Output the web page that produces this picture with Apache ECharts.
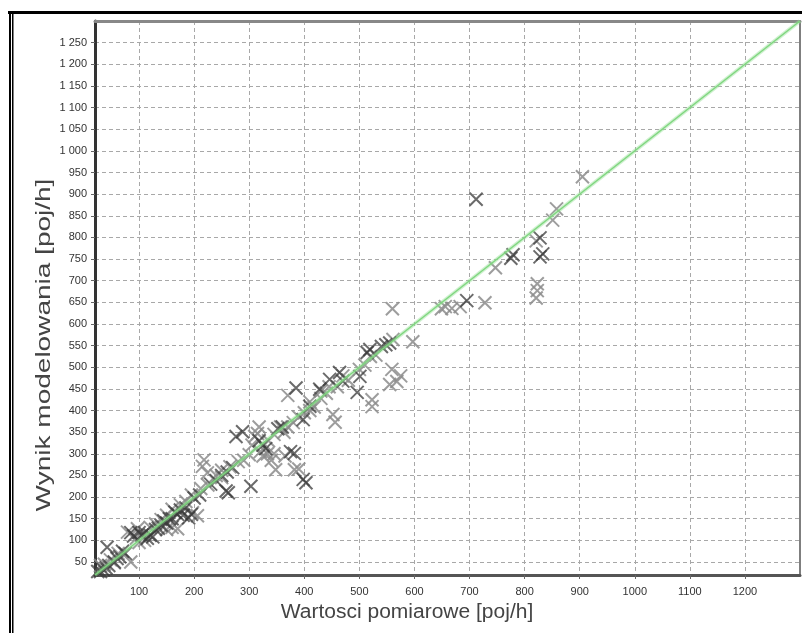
<!DOCTYPE html>
<html>
<head>
<meta charset="utf-8">
<title>Wynik modelowania</title>
<script src="https://cdn.jsdelivr.net/npm/echarts@6/dist/echarts.min.js"></script>
<style>
  html, body { margin: 0; padding: 0; background: #fff; }
  #main { width: 802px; height: 633px; }
</style>
</head>
<body>
<div id="main"></div>
<script>
// tick labels
var xTicks = [100, 200, 300, 400, 500, 600, 700, 800, 900, 1000, 1100, 1200];
var yTicks = [50, 100, 150, 200, 250, 300, 350, 400, 450, 500, 550, 600, 650,
              700, 750, 800, 850, 900, 950, 1000, 1050, 1100, 1150, 1200, 1250];

// measured vs modelled [poj/h], darker markers
var darkPoints = [
  [712, 888], [779, 760], [775, 752], [833, 762], [828, 755], [695, 654], [828, 799],
  [548, 552], [555, 556], [540, 548], [514, 534], [519, 541], [501, 479], [496, 442],
  [464, 488], [446, 472], [428, 449], [410, 410], [470, 468], [385, 452], [403, 233],
  [398, 241], [303, 225], [258, 214], [262, 210], [382, 301], [375, 305], [288, 351],
  [276, 340], [360, 362], [352, 358], [318, 330], [325, 320], [330, 312], [398, 379],
  [230, 230], [240, 238], [250, 250], [260, 258], [270, 268], [200, 198], [210, 205],
  [185, 175], [175, 170], [165, 165], [155, 150], [145, 145], [135, 128], [180, 158],
  [190, 152], [195, 160], [170, 160], [160, 150], [150, 140], [140, 135], [130, 125],
  [125, 108], [120, 112], [115, 105], [110, 118], [105, 112], [100, 118], [90, 110],
  [85, 118], [75, 70], [70, 75], [65, 62], [60, 58], [55, 50], [45, 42], [40, 36],
  [35, 32], [30, 28], [25, 28], [42, 84]
];

// lighter markers
var lightPoints = [
  [905, 940], [858, 866], [851, 840], [821, 792], [747, 730], [823, 693], [823, 677],
  [821, 660], [656, 640], [649, 635], [560, 635], [561, 564], [597, 559], [728, 649],
  [683, 640], [668, 636], [559, 495], [568, 467], [555, 460], [575, 480], [523, 425],
  [523, 409], [452, 391], [456, 373], [418, 408], [370, 435], [348, 263], [382, 263],
  [390, 265], [315, 347], [318, 362], [357, 362], [363, 350], [333, 300], [325, 295],
  [340, 285], [345, 300], [365, 295], [218, 286], [215, 271], [224, 256], [206, 157],
  [197, 164], [170, 127], [150, 125], [160, 130], [97, 127], [79, 119], [85, 50],
  [30, 42], [440, 440], [430, 428], [460, 455], [480, 470], [500, 495], [510, 505],
  [520, 525], [530, 528], [470, 480], [445, 455], [410, 400], [400, 395], [390, 385],
  [380, 372], [370, 362], [345, 345], [335, 330], [305, 320], [310, 340], [320, 305],
  [300, 298], [290, 285], [280, 282], [265, 270], [250, 262], [250, 245], [240, 250],
  [225, 228], [212, 220], [195, 205], [185, 190], [175, 182], [160, 172], [150, 158],
  [140, 148], [130, 138], [120, 130], [110, 100], [100, 95], [95, 105], [62, 70],
  [55, 48], [48, 55], [37, 45], [410, 420], [430, 445]
];

// y = x reference line
var refLine = [[20, 20], [1300, 1300]];

var xPath = 'path://M0,0L10,10M10,0L0,10';

// "1 250" style on the y axis
function spaced(v) {
  if (v >= 1000) {
    return Math.floor(v / 1000) + ' ' + String(v % 1000).padStart(3, '0');
  }
  return String(v);
}

var labelFont = "'Liberation Sans Narrow', 'Liberation Sans', Arial, sans-serif";
var gridDash = { type: [4, 3], color: '#a8a8a8', width: 1 };

var option = {
  backgroundColor: '#fff',
  animation: false,
  grid: {
    left: 95, right: 2, top: 21, bottom: 58,
    show: false
  },
  xAxis: [{
    type: 'value', min: 20, max: 1300, position: 'bottom',
    axisLine: { onZero: false, lineStyle: { color: '#555', width: 3 } },
    axisTick: { show: true, customValues: xTicks, length: 4, lineStyle: { color: '#666' } },
    axisLabel: {
      customValues: xTicks, color: '#333', fontSize: 11, margin: 11,
      fontFamily: labelFont,
      formatter: function (v) { return String(v); }
    },
    splitLine: { show: true, lineStyle: gridDash }
  }, {
    type: 'value', min: 20, max: 1300, position: 'top',
    axisLine: { onZero: false, lineStyle: { color: '#888', width: 3 } },
    axisTick: { show: false }, axisLabel: { show: false }, splitLine: { show: false }
  }],
  yAxis: [{
    type: 'value', min: 20, max: 1300, position: 'left',
    axisLine: { onZero: false, show: true, lineStyle: { color: '#333', width: 3 } },
    axisTick: { show: true, customValues: yTicks, length: 4, lineStyle: { color: '#666' } },
    axisLabel: {
      customValues: yTicks, color: '#333', fontSize: 11, margin: 8,
      fontFamily: labelFont, formatter: spaced
    },
    splitLine: { show: true, lineStyle: gridDash }
  }, {
    type: 'value', min: 20, max: 1300, position: 'right',
    axisLine: { onZero: false, show: true, lineStyle: { color: '#555', width: 1.5 } },
    axisTick: { show: false }, axisLabel: { show: false }, splitLine: { show: false }
  }],
  series: [{
    type: 'scatter', data: lightPoints, symbol: xPath, symbolSize: 13,
    itemStyle: { color: 'rgba(0,0,0,0)', borderColor: '#8c8c8c', borderWidth: 2, opacity: 0.85 },
    z: 2
  }, {
    type: 'scatter', data: darkPoints, symbol: xPath, symbolSize: 13,
    itemStyle: { color: 'rgba(0,0,0,0)', borderColor: '#3a3a3a', borderWidth: 2, opacity: 0.75 },
    z: 3
  }, {
    type: 'line', data: refLine, symbol: 'none', silent: true,
    lineStyle: { color: 'rgba(150,225,150,0.45)', width: 4 },
    z: 4
  }, {
    type: 'line', data: refLine, symbol: 'none', silent: true,
    lineStyle: { color: '#7fd67f', width: 1.5 },
    z: 5
  }],
  graphic: [
    { type: 'rect', shape: { x: 8, y: 11, width: 794, height: 3 }, style: { fill: '#000' } },
    { type: 'rect', shape: { x: 9, y: 11, width: 2, height: 622 }, style: { fill: '#000' } },
    { type: 'rect', shape: { x: 12, y: 11, width: 1.5, height: 622 }, style: { fill: '#000' } },
    {
      type: 'text', x: 407, y: 612, scaleX: 1.05,
      style: {
        text: 'Wartosci pomiarowe [poj/h]', fontSize: 20, fill: '#444',
        fontFamily: 'Liberation Sans, Arial, sans-serif',
        align: 'center', verticalAlign: 'middle'
      }
    },
    {
      type: 'text', x: 44, y: 345, rotation: Math.PI / 2, scaleX: 1.4,
      style: {
        text: 'Wynik modelowania [poj/h]', fontSize: 20, fill: '#444',
        fontFamily: 'Liberation Sans, Arial, sans-serif',
        align: 'center', verticalAlign: 'middle'
      }
    }
  ]
};

var myChart = echarts.init(document.getElementById('main'));
myChart.setOption(option);
</script>
</body>
</html>
